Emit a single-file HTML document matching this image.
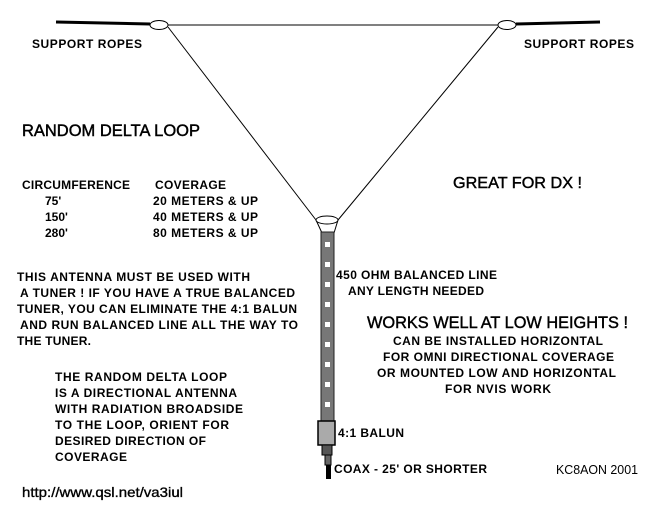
<!DOCTYPE html>
<html><head><meta charset="utf-8"><style>
html,body{margin:0;padding:0;background:#fff;}
svg{display:block}
text{font-family:"Liberation Sans",Arial,sans-serif;font-weight:bold;fill:#000;font-size:12px;}
.n{font-weight:normal}
.h{font-weight:normal;stroke:#000;stroke-width:0.45}
</style></head><body>
<svg width="652" height="521" viewBox="0 0 652 521" xmlns="http://www.w3.org/2000/svg">
<rect width="652" height="521" fill="#fff"/>
<line x1="56" y1="22" x2="150" y2="24" stroke="#000" stroke-width="3"/>
<line x1="516" y1="24" x2="600" y2="22" stroke="#000" stroke-width="3"/>
<ellipse cx="159" cy="25" rx="9" ry="4.5" fill="#fff" stroke="#000" stroke-width="1"/>
<ellipse cx="507" cy="25" rx="9" ry="4.5" fill="#fff" stroke="#000" stroke-width="1"/>
<line x1="168" y1="25" x2="498" y2="25" stroke="#000" stroke-width="1"/>
<line x1="168" y1="27" x2="316" y2="220" stroke="#000" stroke-width="1"/>
<line x1="498" y1="27" x2="338" y2="220" stroke="#000" stroke-width="1"/>
<line x1="316" y1="220" x2="322" y2="233" stroke="#000" stroke-width="1"/>
<line x1="338" y1="220" x2="334" y2="233" stroke="#000" stroke-width="1"/>
<ellipse cx="327" cy="220" rx="11" ry="4" fill="#fff" stroke="#000" stroke-width="1"/>
<rect x="321" y="232" width="13" height="189" fill="#777" stroke="#222" stroke-width="1"/>
<g fill="#fff">
<rect x="325" y="242" width="5" height="5"/><rect x="325" y="262" width="5" height="5"/>
<rect x="325" y="282" width="5" height="5"/><rect x="325" y="302" width="5" height="5"/>
<rect x="325" y="322" width="5" height="5"/><rect x="325" y="342" width="5" height="5"/>
<rect x="325" y="362" width="5" height="5"/><rect x="325" y="382" width="5" height="5"/>
<rect x="325" y="402" width="5" height="5"/>
</g>
<rect x="318" y="421" width="17" height="24" fill="#aaa" stroke="#000" stroke-width="1.5"/>
<rect x="322" y="445" width="10" height="10" fill="#555" stroke="#000"/>
<rect x="325" y="455" width="6" height="10" fill="#666" stroke="#000"/>
<rect x="326" y="465" width="5" height="14" fill="#000"/>
<text x="32" y="48" textLength="110">SUPPORT ROPES</text>
<text x="524" y="48" textLength="110">SUPPORT ROPES</text>
<text class="h" x="22" y="136" style="font-size:16.5px" textLength="178" lengthAdjust="spacingAndGlyphs">RANDOM DELTA LOOP</text>
<text class="h" x="453" y="188" style="font-size:16px" textLength="129" lengthAdjust="spacingAndGlyphs">GREAT FOR DX !</text>
<text x="22" y="189" textLength="108">CIRCUMFERENCE</text>
<text x="155" y="189" textLength="71">COVERAGE</text>
<text x="45" y="205">75'</text>
<text x="45" y="221">150'</text>
<text x="45" y="237">280'</text>
<text x="153" y="205" textLength="105">20 METERS &amp; UP</text>
<text x="153" y="221" textLength="105">40 METERS &amp; UP</text>
<text x="153" y="237" textLength="105">80 METERS &amp; UP</text>
<text x="17" y="281" textLength="233">THIS ANTENNA MUST BE USED WITH</text>
<text x="20" y="297" textLength="275">A TUNER ! IF YOU HAVE A TRUE BALANCED</text>
<text x="17" y="313" textLength="280">TUNER, YOU CAN ELIMINATE THE 4:1 BALUN</text>
<text x="20" y="329" textLength="278">AND RUN BALANCED LINE ALL THE WAY TO</text>
<text x="17" y="345" textLength="74">THE TUNER.</text>
<text x="55" y="381" textLength="172">THE RANDOM DELTA LOOP</text>
<text x="55" y="397" textLength="182">IS A DIRECTIONAL ANTENNA</text>
<text x="55" y="413" textLength="188">WITH RADIATION BROADSIDE</text>
<text x="55" y="429" textLength="174">TO THE LOOP, ORIENT FOR</text>
<text x="55" y="445" textLength="151">DESIRED DIRECTION OF</text>
<text x="55" y="461" textLength="72">COVERAGE</text>
<text class="h" x="22" y="497" style="font-size:14px;stroke-width:0.35" textLength="161" lengthAdjust="spacingAndGlyphs">http://www.qsl.net/va3iul</text>
<text x="336" y="279" textLength="161">450 OHM BALANCED LINE</text>
<text x="348" y="295" textLength="136">ANY LENGTH NEEDED</text>
<text class="h" x="367" y="328" style="font-size:17px" textLength="261" lengthAdjust="spacingAndGlyphs">WORKS WELL AT LOW HEIGHTS !</text>
<text x="393" y="345" textLength="210">CAN BE INSTALLED HORIZONTAL</text>
<text x="383" y="361" textLength="231">FOR OMNI DIRECTIONAL COVERAGE</text>
<text x="377" y="377" textLength="239">OR MOUNTED LOW AND HORIZONTAL</text>
<text x="445" y="393" textLength="106">FOR NVIS WORK</text>
<text x="338" y="437" textLength="66">4:1 BALUN</text>
<text x="334" y="473" textLength="153">COAX - 25' OR SHORTER</text>
<text class="n" x="556" y="474" style="font-size:13px" textLength="82" lengthAdjust="spacingAndGlyphs">KC8AON 2001</text>
</svg>
</body></html>
